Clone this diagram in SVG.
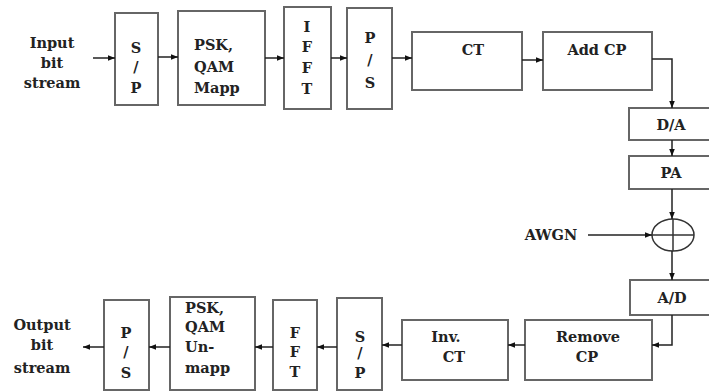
<svg xmlns="http://www.w3.org/2000/svg" width="709" height="392" viewBox="0 0 709 392">
<defs>
<marker id="ah" viewBox="0 0 10 10" refX="10" refY="5" markerWidth="7" markerHeight="7" markerUnits="userSpaceOnUse" orient="auto">
<path d="M0,1 L10,5 L0,9 z" fill="#111"/>
</marker>
<style>
.box{fill:#fff;stroke:#666;stroke-width:2}
.t{font-family:"DejaVu Serif","Liberation Serif",serif;font-weight:bold;font-size:14.5px;fill:#222}
.c{text-anchor:middle}
.ln{fill:none;stroke:#222;stroke-width:1.5}
.ar{fill:none;stroke:#222;stroke-width:1.5;marker-end:url(#ah)}
</style>
</defs>
<rect width="709" height="392" fill="#fff"/>
<g id="input">
<text class="t c" x="52" y="48">Input</text>
<text class="t c" x="52" y="68">bit</text>
<text class="t c" x="52" y="88">stream</text>
</g>
<g id="sp1"><rect class="box" x="115" y="13" width="43" height="92"/>
<text class="t c" x="136" y="53">S</text><text class="t c" x="136" y="72">/</text><text class="t c" x="136" y="93">P</text></g>
<g id="map"><rect class="box" x="178" y="11" width="87" height="94"/>
<text class="t" x="194" y="50">PSK,</text><text class="t" x="194" y="72">QAM</text><text class="t" x="194" y="93">Mapp</text></g>
<g id="ifft"><rect class="box" x="284" y="7" width="47" height="102"/>
<text class="t c" x="307" y="32">I</text><text class="t c" x="307" y="52">F</text><text class="t c" x="307" y="73">F</text><text class="t c" x="307" y="94">T</text></g>
<g id="ps1"><rect class="box" x="347" y="8" width="45" height="101"/>
<text class="t c" x="370" y="43">P</text><text class="t c" x="370" y="65">/</text><text class="t c" x="370" y="88">S</text></g>
<g id="ct"><rect class="box" x="412" y="32" width="110" height="58"/>
<text class="t c" x="473" y="55">CT</text></g>
<g id="addcp"><rect class="box" x="543" y="32" width="109" height="58"/>
<text class="t c" x="597" y="55">Add CP</text></g>
<g id="da"><rect class="box" x="629" y="108" width="82" height="32"/>
<text class="t c" x="671" y="130">D/A</text></g>
<g id="pa"><rect class="box" x="629" y="156" width="82" height="33"/>
<text class="t c" x="671" y="178">PA</text></g>
<g id="sum"><ellipse cx="673" cy="235" rx="21" ry="16" fill="#fff" stroke="#333" stroke-width="1.5"/>
<line x1="652" y1="235" x2="694" y2="235" stroke="#333" stroke-width="1.5"/>
<line x1="673" y1="219" x2="673" y2="251" stroke="#333" stroke-width="1.5"/></g>
<g id="awgn"><text class="t c" x="551" y="240">AWGN</text></g>
<g id="ad"><rect class="box" x="630" y="280" width="82" height="35"/>
<text class="t c" x="672" y="303">A/D</text></g>
<g id="rmcp"><rect class="box" x="525" y="320" width="127" height="60"/>
<text class="t c" x="588" y="342">Remove</text><text class="t c" x="587" y="362">CP</text></g>
<g id="invct"><rect class="box" x="402" y="320" width="106" height="60"/>
<text class="t c" x="446" y="342">Inv.</text><text class="t c" x="454" y="362">CT</text></g>
<g id="sp2"><rect class="box" x="337" y="298" width="45" height="92"/>
<text class="t c" x="360" y="342">S</text><text class="t c" x="360" y="358">/</text><text class="t c" x="360" y="378">P</text></g>
<g id="fft"><rect class="box" x="273" y="300" width="44" height="90"/>
<text class="t c" x="295" y="338">F</text><text class="t c" x="295" y="357">F</text><text class="t c" x="295" y="377">T</text></g>
<g id="unmap"><rect class="box" x="170" y="297" width="85" height="93"/>
<text class="t" x="185" y="313">PSK,</text><text class="t" x="185" y="332">QAM</text><text class="t" x="185" y="352">Un-</text><text class="t" x="185" y="373">mapp</text></g>
<g id="ps2"><rect class="box" x="104" y="300" width="45" height="90"/>
<text class="t c" x="126" y="338">P</text><text class="t c" x="126" y="357">/</text><text class="t c" x="126" y="378">S</text></g>
<g id="output">
<text class="t c" x="42" y="330">Output</text>
<text class="t c" x="42" y="350">bit</text>
<text class="t c" x="42" y="373">stream</text>
</g>
<g id="connectors">
<line class="ar" x1="93" y1="58" x2="115" y2="58"/>
<line class="ar" x1="158" y1="57" x2="178" y2="57"/>
<line class="ar" x1="265" y1="58" x2="284" y2="58"/>
<line class="ar" x1="331" y1="58" x2="347" y2="58"/>
<line class="ar" x1="392" y1="58" x2="412" y2="58"/>
<line class="ar" x1="522" y1="60" x2="543" y2="60"/>
<polyline class="ar" points="652,59 672,59 672,108"/>
<line class="ar" x1="672" y1="140" x2="672" y2="156"/>
<line class="ar" x1="672" y1="189" x2="672" y2="219"/>
<line class="ar" x1="588" y1="235" x2="652" y2="235"/>
<line class="ar" x1="672" y1="251" x2="672" y2="280"/>
<polyline class="ar" points="672,315 672,345 652,345"/>
<line class="ar" x1="525" y1="345" x2="508" y2="345"/>
<line class="ar" x1="402" y1="345" x2="382" y2="345"/>
<line class="ar" x1="337" y1="347" x2="317" y2="347"/>
<line class="ar" x1="273" y1="347" x2="255" y2="347"/>
<line class="ar" x1="170" y1="347" x2="149" y2="347"/>
<line class="ar" x1="104" y1="347" x2="83" y2="347"/>
</g>
</svg>
